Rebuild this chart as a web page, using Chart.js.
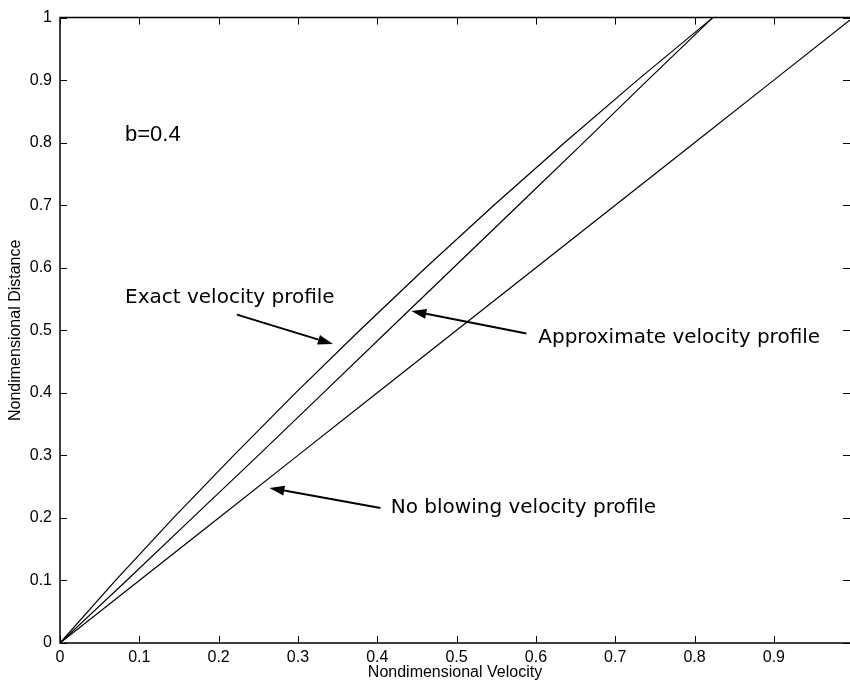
<!DOCTYPE html>
<html>
<head>
<meta charset="utf-8">
<script src="https://cdn.jsdelivr.net/npm/chart.js@4.4.1/dist/chart.umd.min.js"></script>
<style>
	html, body { margin: 0; padding: 0; background: #fff; }
	#wrap { width: 850px; height: 681px; }
</style>
</head>
<body>
<div id="wrap"><canvas id="profileChart" width="850" height="681"></canvas></div>
<script>
// Nondimensional distance (y) and the three velocity profiles (x)
const distance = [0, 0.1, 0.2, 0.3, 0.4, 0.5, 0.6, 0.7, 0.8, 0.9, 1.0];
const exactVelocity = [0, 0.070, 0.143, 0.219, 0.297, 0.378, 0.461, 0.547, 0.636, 0.728, 0.823];
const approxVelocity = [0, 0.084, 0.167, 0.250, 0.332, 0.414, 0.496, 0.578, 0.660, 0.741, 0.823];
const noBlowingVelocity = [0, 0.1, 0.2, 0.3, 0.4, 0.5, 0.6, 0.7, 0.8, 0.9, 1.0];

const xTicks = [0, 0.1, 0.2, 0.3, 0.4, 0.5, 0.6, 0.7, 0.8, 0.9];
const yTicks = [0, 0.1, 0.2, 0.3, 0.4, 0.5, 0.6, 0.7, 0.8, 0.9, 1];

// text labels and arrows, in data coordinates
const labelTexts = ["b=0.4", "Exact velocity profile", "Approximate velocity profile", "No blowing velocity profile"];
const labelX = [0.082, 0.082, 0.603, 0.417];
const labelY = [0.802, 0.543, 0.479, 0.208];
const arrowFrom = [[0.223, 0.525], [0.588, 0.495], [0.404, 0.216]];
const arrowTo = [[0.344, 0.478], [0.443, 0.531], [0.264, 0.248]];

function toPoints(xs, ys) {
	return xs.map((x, i) => ({ x: x, y: ys[i] }));
}

/**
 * Matlab style box: frame plus inward ticks on all four sides
 */
const boxPlugin = {
	id: "box",
	afterDatasetsDraw(chart) {
		const ctx = chart.ctx;
		const area = chart.chartArea;
		const xs = chart.scales.x;
		const ys = chart.scales.y;
		const tick = 7;
		ctx.save();
		ctx.strokeStyle = "#000";
		ctx.lineWidth = 1.5;
		ctx.beginPath();
		ctx.moveTo(area.right, area.top);
		ctx.lineTo(area.left, area.top);
		ctx.lineTo(area.left, area.bottom);
		ctx.lineTo(area.right, area.bottom);
		ctx.stroke();
		ctx.lineWidth = 1;
		ctx.beginPath();
		xTicks.forEach((v) => {
			const px = Math.round(xs.getPixelForValue(v)) + 0.5;
			ctx.moveTo(px, area.bottom);
			ctx.lineTo(px, area.bottom - tick);
			ctx.moveTo(px, area.top);
			ctx.lineTo(px, area.top + tick);
		});
		yTicks.forEach((v) => {
			const py = Math.round(ys.getPixelForValue(v)) + 0.5;
			ctx.moveTo(area.left, py);
			ctx.lineTo(area.left + tick, py);
			ctx.moveTo(area.right, py);
			ctx.lineTo(area.right - tick, py);
		});
		ctx.stroke();
		ctx.restore();
	},
};

const notesPlugin = {
	id: "notes",
	afterDatasetsDraw(chart) {
		const ctx = chart.ctx;
		const xs = chart.scales.x;
		const ys = chart.scales.y;
		ctx.save();
		ctx.fillStyle = "#000";
		ctx.strokeStyle = "#000";
		ctx.textBaseline = "alphabetic";
		labelTexts.forEach((t, i) => {
			ctx.font = i === 0 ? "22px 'Liberation Sans', Arial, sans-serif" : "20px 'DejaVu Sans', sans-serif";
			ctx.fillText(t, xs.getPixelForValue(labelX[i]), ys.getPixelForValue(labelY[i]));
		});
		// arrows
		arrowFrom.forEach((from, i) => {
			const x0 = xs.getPixelForValue(from[0]);
			const y0 = ys.getPixelForValue(from[1]);
			const x1 = xs.getPixelForValue(arrowTo[i][0]);
			const y1 = ys.getPixelForValue(arrowTo[i][1]);
			const ang = Math.atan2(y1 - y0, x1 - x0);
			const headLen = 15;
			const headW = 5;
			const bx = x1 - headLen * Math.cos(ang);
			const by = y1 - headLen * Math.sin(ang);
			ctx.lineWidth = 2;
			ctx.beginPath();
			ctx.moveTo(x0, y0);
			ctx.lineTo(bx, by);
			ctx.stroke();
			ctx.beginPath();
			ctx.moveTo(x1, y1);
			ctx.lineTo(bx + headW * Math.sin(ang), by - headW * Math.cos(ang));
			ctx.lineTo(bx - headW * Math.sin(ang), by + headW * Math.cos(ang));
			ctx.closePath();
			ctx.fill();
		});
		ctx.restore();
	},
};

function lineSet(label, xs) {
	return {
		label: label,
		data: toPoints(xs, distance),
		borderColor: "#000",
		borderWidth: 1.2,
		pointRadius: 0,
		fill: false,
		tension: 0,
	};
}

const tickFont = { family: "'Liberation Sans', Arial, sans-serif", size: 16 };
const titleFont = { family: "'Liberation Sans', Arial, sans-serif", size: 16, lineHeight: 1 };

const config = {
	type: "scatter",
	data: {
		datasets: [
			lineSet("Exact velocity profile", exactVelocity),
			lineSet("Approximate velocity profile", approxVelocity),
			lineSet("No blowing velocity profile", noBlowingVelocity),
		],
	},
	options: {
		responsive: false,
		animation: false,
		showLine: true,
		layout: { padding: { top: 17, right: 0, bottom: 0, left: 0 } },
		plugins: {
			legend: { display: false },
			tooltip: { enabled: false },
		},
		scales: {
			x: {
				type: "linear",
				min: 0,
				max: 0.996,
				grid: { display: false, drawTicks: false },
				border: { display: false },
				afterBuildTicks: (scale) => {
					scale.ticks = xTicks.map((v) => ({ value: v }));
				},
				afterFit: (scale) => {
					scale.height = 38;
				},
				ticks: {
					color: "#000",
					font: tickFont,
					padding: 5,
					maxRotation: 0,
					autoSkip: false,
					callback: (v) => String(v),
				},
				title: {
					display: true,
					text: "Nondimensional Velocity",
					color: "#000",
					font: titleFont,
					padding: { top: 0, bottom: 0 },
				},
			},
			y: {
				type: "linear",
				min: 0,
				max: 1,
				grid: { display: false, drawTicks: false },
				border: { display: false },
				afterBuildTicks: (scale) => {
					scale.ticks = yTicks.map((v) => ({ value: v }));
				},
				afterFit: (scale) => {
					scale.width = 60;
				},
				ticks: {
					color: "#000",
					font: tickFont,
					padding: 8,
					autoSkip: false,
					callback: (v) => String(v),
				},
				title: {
					display: true,
					text: "Nondimensional Distance",
					color: "#000",
					font: titleFont,
					padding: { top: 8, bottom: 0 },
				},
			},
		},
	},
	plugins: [boxPlugin, notesPlugin],
};

window.profileChartObj = new Chart(document.getElementById("profileChart"), config);
</script>
</body>
</html>
